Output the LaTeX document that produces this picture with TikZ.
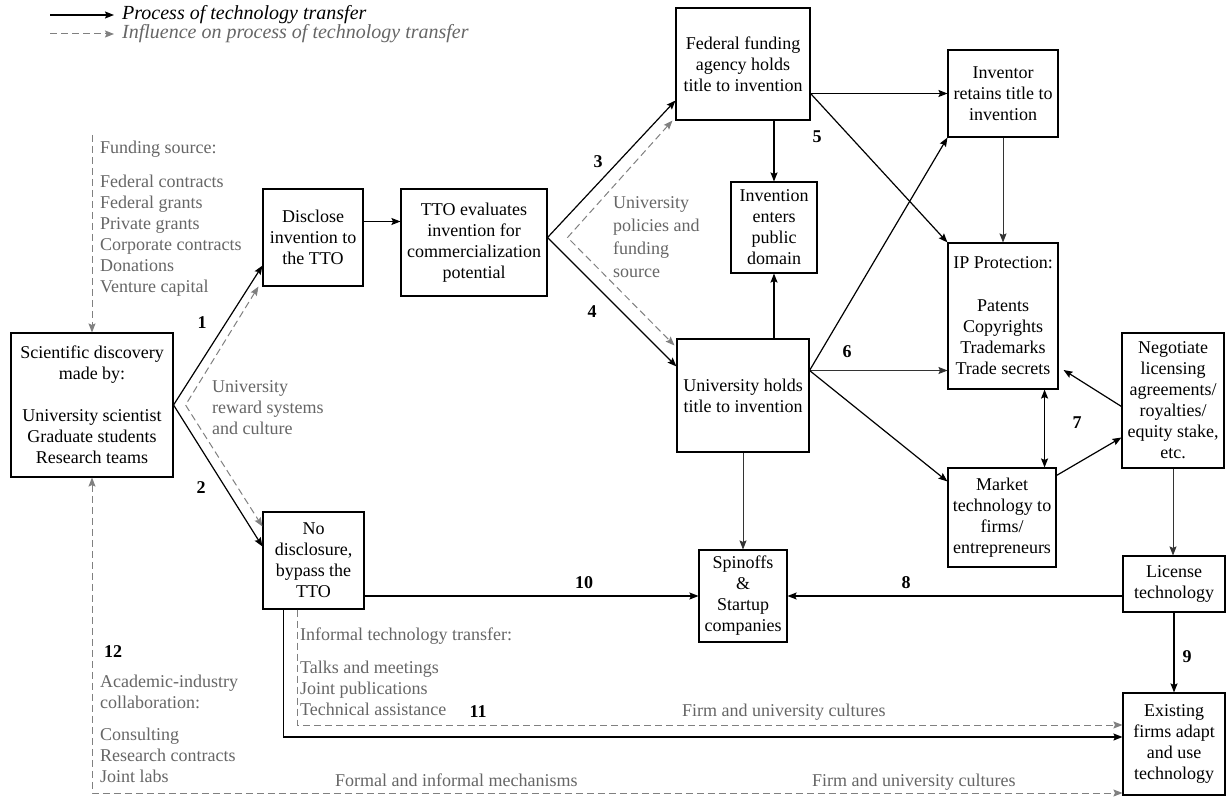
\documentclass[tikz,border=0pt]{standalone}
\usepackage{fontspec}
\setmainfont{Liberation Serif}
\usetikzlibrary{arrows.meta}

\begin{document}
\begin{tikzpicture}[>={Stealth[length=9pt,width=7pt,inset=1.5pt]},x=1pt,y=-1pt,
    font=\fontsize{18}{21}\selectfont,
    box/.style={draw,line width=1.1pt,align=center,inner sep=0pt},
    flow/.style={->,line width=1.2pt},
    thinflow/.style={->,line width=0.8pt,black!80},
    infl/.style={->,black!50,line width=1pt,dash pattern=on 7pt off 4pt},
    note/.style={text=black!60,align=left,anchor=north west,inner sep=0pt},
    num/.style={font=\fontsize{18}{21}\selectfont\bfseries,inner sep=0pt}]

  \fill[white] (0,0) rectangle (1231,799);
  \useasboundingbox (0,0) rectangle (1231,799);

  % legend
  \coordinate (lgA) at (50,15);
  \coordinate (lgB) at (50,34);
  \node[anchor=west,inner sep=0pt,font=\fontsize{20}{24}\selectfont\itshape] (legA) at (122,15) {Process of technology transfer};
  \node[anchor=west,inner sep=0pt,text=black!60,font=\fontsize{20}{24}\selectfont\itshape] (legB) at (122,34) {Influence on process of technology transfer};
  \draw[flow] (lgA) -- ([xshift=-8pt]legA.west);
  \draw[infl] (lgB) -- ([xshift=-8pt]legB.west);

  % boxes
  \node[box,minimum width=162pt,minimum height=144pt] (sci) at (92,405)
        {Scientific discovery\\made by:\\[21pt]University scientist\\Graduate students\\Research teams};
  \node[box,minimum width=100pt,minimum height=97pt] (disc) at (313,237.5)
        {Disclose\\invention to\\the TTO};
  \node[box,minimum width=146pt,minimum height=107pt] (tto) at (474,242.5)
        {TTO evaluates\\invention for\\commercialization\\potential};
  \node[box,minimum width=134pt,minimum height=112pt] (fed) at (743,64)
        {Federal funding\\agency holds\\title to invention};
  \node[box,minimum width=110pt,minimum height=87pt] (inv) at (1003,93.5)
        {Inventor\\retains title to\\invention};
  \node[box,minimum width=86pt,minimum height=91pt] (pub) at (774,227.5)
        {Invention\\enters\\public\\domain};
  \node[box,minimum width=132pt,minimum height=113pt] (univ) at (743,395.5)
        {University holds\\title to invention};
  \node[box,minimum width=110pt,minimum height=146pt] (ip) at (1003,316)
        {IP Protection:\\[22pt]Patents\\Copyrights\\Trademarks\\Trade secrets};
  \node[box,minimum width=102pt,minimum height=135pt] (neg) at (1173,400.5)
        {Negotiate\\licensing\\agreements/\\royalties/\\equity stake,\\etc.};
  \node[box,minimum width=108pt,minimum height=99pt] (mkt) at (1002,517.5)
        {Market\\technology to\\firms/\\entrepreneurs};
  \node[box,minimum width=101pt,minimum height=97pt] (nodis) at (313.5,560.5)
        {No\\disclosure,\\bypass the\\TTO};
  \node[box,minimum width=88pt,minimum height=92pt] (spin) at (743,596)
        {Spinoffs\\\&\\Startup\\companies};
  \node[box,minimum width=102pt,minimum height=56pt] (lic) at (1174,584)
        {License\\technology};
  \node[box,minimum width=102pt,minimum height=102pt] (exist) at (1174,744)
        {Existing\\firms adapt\\and use\\technology};

  % influence texts
  \node[note] (fund) at (100,141) {Funding source:\\[13pt]Federal contracts\\Federal grants\\Private grants\\Corporate contracts\\Donations\\Venture capital};
  \node[note] (reward) at (212,380) {University\\reward systems\\and culture};
  \node[note,font=\fontsize{18}{23}\selectfont] (policy) at (613,196) {University\\policies and\\funding\\source};
  \node[note] (informal) at (300,628) {Informal technology transfer:\\[12pt]Talks and meetings\\Joint publications\\Technical assistance};
  \node[note] (academic) at (100,675) {Academic-industry\\collaboration:\\[11pt]Consulting\\Research contracts\\Joint labs};
  \node[note,anchor=west] (formal) at (335,780) {Formal and informal mechanisms};
  \node[note,anchor=west] (cultA) at (682,712) {Firm and university cultures};
  \node[note,anchor=west] (cultB) at (812,782) {Firm and university cultures};

  % step numbers
  \node[num] (n1) at (202,323) {1};
  \node[num] (n2) at (201,488) {2};
  \node[num] (n3) at (598,162) {3};
  \node[num] (n4) at (592,312) {4};
  \node[num] (n5) at (817,137) {5};
  \node[num] (n6) at (847,352) {6};
  \node[num] (n7) at (1077,423) {7};
  \node[num] (n8) at (906,583) {8};
  \node[num] (n9) at (1187,657) {9};
  \node[num] (n10) at (584,583) {10};
  \node[num] (n11) at (478,712) {11};
  \node[num] (n12) at (113,652) {12};

  % process of technology transfer
  \coordinate (tv) at ([yshift=5pt]tto.east);
  \coordinate (uv) at ([yshift=25pt]univ.east);
  \draw[flow] (sci.east) -- ([yshift=21pt]disc.south west);
  \draw[flow] (sci.east) -- ([yshift=14pt]nodis.west);
  \draw[flow] ([yshift=16pt]disc.east) -- ([yshift=16pt]disc.east -| tto.west);
  \draw[flow] (tv) -- ([yshift=20pt]fed.south west);
  \draw[flow] (tv) -- ([yshift=-28pt]univ.north west);
  \draw[flow] (fed.east |- inv.west) -- (inv.west);
  \draw[flow] (fed.east |- inv.west) -- (ip.north west);
  \draw[flow] (fed.south -| pub.north) -- (pub.north);
  \draw[flow] (univ.north -| pub.south) -- (pub.south);
  \draw[flow] (uv) -- (inv.south west);
  \draw[thinflow] (uv) -- (uv -| ip.west);
  \draw[flow] (uv) -- ([yshift=-14pt]mkt.north west);
  \draw[thinflow] (univ.south) -- (spin.north);
  \draw[thinflow] (inv.south) -- (ip.north);
  \draw[flow,<->] ([xshift=-14pt]ip.south east) -- ([xshift=-14pt]ip.south east |- mkt.north);
  \draw[flow] ([yshift=-6pt]neg.west) -- ([shift={(5pt,-54pt)}]ip.east);
  \draw[flow] ([yshift=-8pt]mkt.north east) -- ([yshift=-37pt]neg.west);
  \draw[thinflow] (neg.south) -- (neg.south |- lic.north);
  \draw[flow] (lic.south) -- (exist.north);
  \draw[flow] (lic.west |- spin.east) -- (spin.east);
  \draw[flow] (nodis.east |- spin.west) -- (spin.west);
  \draw[flow] ([xshift=-30pt]nodis.south) |- ([yshift=7pt]exist.west);

  % influences
  \coordinate (fundtop) at (92,135);
  \coordinate (rw) at ([xshift=12pt]sci.east);
  \coordinate (pv) at ([xshift=20pt]tv);
  \draw[infl] (fundtop) -- (sci.north);
  \draw[infl,<->] ([xshift=-4pt]disc.south west) -- (rw) -- ([yshift=34pt]nodis.west);
  \draw[infl,<->] ([xshift=-3pt]fed.south west) -- (pv) -- ([shift={(-2pt,-7pt)}]univ.north west);
  \draw[infl] ([xshift=-16pt]nodis.south) |- ([yshift=19pt]exist.west);
  \draw[infl,<->] (sci.south) |- ([yshift=-49pt]exist.west);

\end{tikzpicture}
\end{document}
